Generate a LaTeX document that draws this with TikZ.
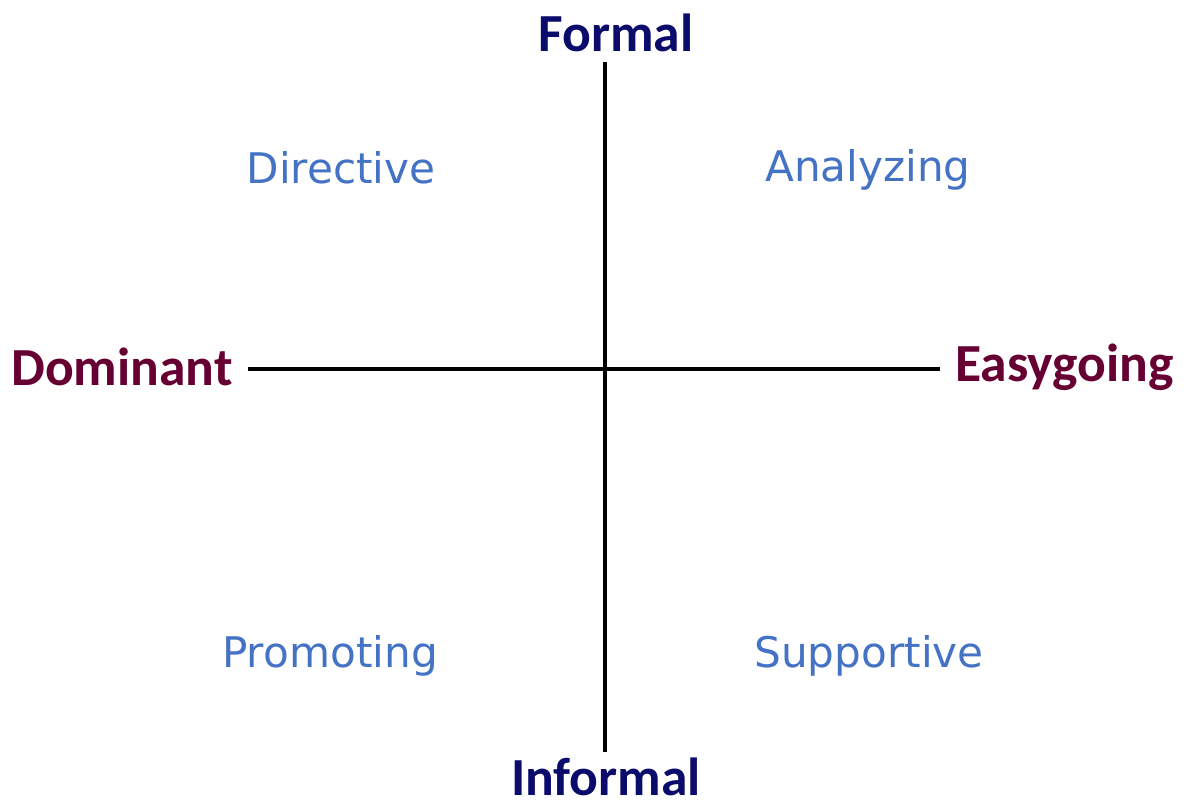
\documentclass[tikz,border=0pt]{standalone}
\usepackage{fontspec}
\setmainfont{DejaVu Sans}
\newfontfamily\axisfont{Carlito}
\definecolor{axisblue}{HTML}{0B0B6B}
\definecolor{axisred}{HTML}{660033}
\definecolor{quadblue}{HTML}{4472C4}

\begin{document}
\begin{tikzpicture}[x=0.02cm, y=-0.02cm,
    axislabel/.style={font=\axisfont\bfseries\fontsize{30.5}{32}\selectfont, inner sep=0pt},
    quadlabel/.style={font=\fontsize{24}{27}\selectfont, text=quadblue, inner sep=0pt},
    axisline/.style={line width=1.8pt, black}
    ]
    \useasboundingbox (0,0) rectangle (1184,807);
    % axes
    \coordinate (top) at (605,62);
    \coordinate (bottom) at (605,752);
    \coordinate (left) at (248,369);
    \coordinate (right) at (940,369);
    \draw[axisline] (top) -- (bottom);
    \draw[axisline] (left) -- (right);
    % axis labels
    \node[axislabel, text=axisblue] (formal) at (616,33) {Formal};
    \node[axislabel, text=axisblue] (informal) at (606,777) {Informal};
    \node[axislabel, text=axisred, anchor=east] (dominant) at (233,367) {Dominant};
    \node[axislabel, text=axisred, anchor=base west] (easygoing) at (955,382) {Easygoing};
    % quadrants
    \node[quadlabel] (directive) at (341,168) {Directive};
    \node[quadlabel] (analyzing) at (868,170) {Analyzing};
    \node[quadlabel] (promoting) at (330,656) {Promoting};
    \node[quadlabel] (supportive) at (869,656) {Supportive};
\end{tikzpicture}
\end{document}
